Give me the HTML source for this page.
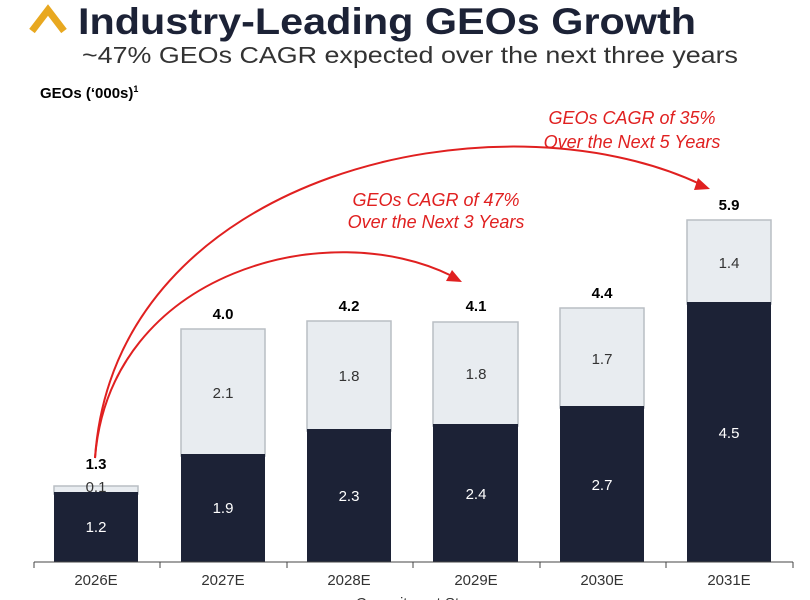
<!DOCTYPE html>
<html><head><meta charset="utf-8"><style>
html,body{margin:0;padding:0;background:#fff;}
body{width:810px;height:600px;overflow:hidden;position:relative;font-family:"Liberation Sans",sans-serif;}
</style></head><body>
<svg width="810" height="600" xmlns="http://www.w3.org/2000/svg" style="position:absolute;left:0;top:0">
<polyline points="32,31 48,10 64,31" fill="none" stroke="#e8a820" stroke-width="7"/>
<text x="78" y="34" font-size="37" font-weight="bold" fill="#1c2236" textLength="618" lengthAdjust="spacingAndGlyphs">Industry-Leading GEOs Growth</text>
<text x="82" y="63" font-size="23" fill="#333" textLength="656" lengthAdjust="spacingAndGlyphs">~47% GEOs CAGR expected over the next three years</text>
<text x="40" y="98" font-size="15" font-weight="bold" fill="#000">GEOs (‘000s)<tspan font-size="9" dy="-6">1</tspan></text>
<g stroke="#b9bec4" stroke-width="1.5" fill="#e8ecf0">
<rect x="54" y="486" width="84" height="8"/>
<rect x="181" y="329" width="84" height="127"/>
<rect x="307" y="321" width="84" height="110"/>
<rect x="433" y="322" width="85" height="104"/>
<rect x="560" y="308" width="84" height="100"/>
<rect x="687" y="220" width="84" height="84"/>
</g>
<g fill="#1c2236">
<rect x="54" y="492" width="84" height="70"/>
<rect x="181" y="454" width="84" height="108"/>
<rect x="307" y="429" width="84" height="133"/>
<rect x="433" y="424" width="85" height="138"/>
<rect x="560" y="406" width="84" height="156"/>
<rect x="687" y="302" width="84" height="260"/>
</g>
<line x1="34" y1="562" x2="793" y2="562" stroke="#444" stroke-width="1"/>
<g stroke="#444" stroke-width="1">
<line x1="34" y1="562" x2="34" y2="568"/><line x1="160" y1="562" x2="160" y2="568"/><line x1="287" y1="562" x2="287" y2="568"/><line x1="413" y1="562" x2="413" y2="568"/><line x1="540" y1="562" x2="540" y2="568"/><line x1="666" y1="562" x2="666" y2="568"/><line x1="793" y1="562" x2="793" y2="568"/>
</g>
<g font-size="15" fill="#333" text-anchor="middle">
<text x="96" y="585">2026E</text><text x="223" y="585">2027E</text><text x="349" y="585">2028E</text><text x="476" y="585">2029E</text><text x="602" y="585">2030E</text><text x="729" y="585">2031E</text>
<text x="420" y="608">Commitment Stage</text>
</g>
<g font-size="15" fill="#fff" text-anchor="middle">
<text x="96" y="532">1.2</text><text x="223" y="513">1.9</text><text x="349" y="501">2.3</text><text x="476" y="499">2.4</text><text x="602" y="490">2.7</text><text x="729" y="438">4.5</text>
</g>
<g font-size="15" fill="#333" text-anchor="middle">
<text x="96" y="492">0.1</text><text x="223" y="398">2.1</text><text x="349" y="381">1.8</text><text x="476" y="379">1.8</text><text x="602" y="364">1.7</text><text x="729" y="268">1.4</text>
</g>
<g font-size="15" font-weight="bold" fill="#000" text-anchor="middle">
<text x="96" y="469">1.3</text><text x="223" y="319">4.0</text><text x="349" y="311">4.2</text><text x="476" y="311">4.1</text><text x="602" y="298">4.4</text><text x="729" y="210">5.9</text>
</g>
<g fill="none" stroke="#e02020" stroke-width="2">
<path d="M95,458 C110,270 330,215 452,276"/>
<path d="M95,458 C115,170 500,90 700,184"/>
</g>
<polygon points="462,282 446,281 452,270" fill="#e02020"/>
<polygon points="710,189 694,190 698,178" fill="#e02020"/>
<g font-size="18" font-style="italic" fill="#e02020" text-anchor="middle">
<text x="632" y="124">GEOs CAGR of 35%</text><text x="632" y="148">Over the Next 5 Years</text>
<text x="436" y="206">GEOs CAGR of 47%</text><text x="436" y="228">Over the Next 3 Years</text>
</g>
</svg>
</body></html>
